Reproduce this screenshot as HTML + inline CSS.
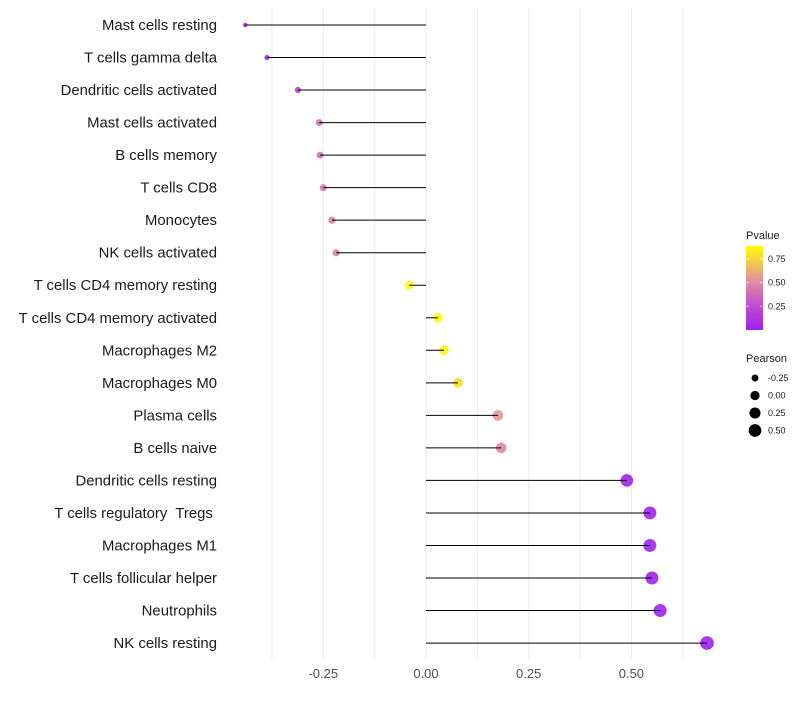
<!DOCTYPE html>
<html><head><meta charset="utf-8"><style>
body{margin:0;background:#fff;font-family:"Liberation Sans",sans-serif}
text{white-space:pre}
</style></head><body>
<svg id="c" width="800" height="700" xmlns="http://www.w3.org/2000/svg">
<defs><linearGradient id="pg" x1="0" y1="1" x2="0" y2="0">
<stop offset="0" stop-color="#A020F0"/><stop offset="0.3" stop-color="#C24ECB"/><stop offset="0.6" stop-color="#E3929A"/><stop offset="1" stop-color="#FFFF00"/>
</linearGradient></defs>
</svg>
<script>
const categories=["Mast cells resting","T cells gamma delta","Dendritic cells activated","Mast cells activated","B cells memory","T cells CD8","Monocytes","NK cells activated","T cells CD4 memory resting","T cells CD4 memory activated","Macrophages M2","Macrophages M0","Plasma cells","B cells naive","Dendritic cells resting","T cells regulatory  Tregs ","Macrophages M1","T cells follicular helper","Neutrophils","NK cells resting"];
const pearson=[-0.44,-0.387,-0.312,-0.26,-0.258,-0.25,-0.229,-0.219,-0.041,0.029,0.044,0.078,0.175,0.183,0.489,0.545,0.545,0.55,0.57,0.684];
const pvalues=[0.02,0.05,0.2,0.4,0.4,0.42,0.45,0.47,0.86,0.88,0.85,0.78,0.55,0.5,0.01,0.01,0.01,0.01,0.01,0.01];
const xTicks=[-0.25,0,0.25,0.5];
const xTickLabels=["-0.25","0.00","0.25","0.50"];
const pTicks=[0.25,0.5,0.75];
const sizeLegend=[-0.25,0,0.25,0.5];
const NS="http://www.w3.org/2000/svg";
const svg=document.getElementById('c');
const x=v=>426+v*410.8;
const y=i=>25+i*32.53;
const rMin=-0.44,rMax=0.684;
const rad=v=>Math.sqrt(5+(v-rMin)/(rMax-rMin)*42);
function mk(t,a){const e=document.createElementNS(NS,t);for(const k in a)e.setAttribute(k,a[k]);svg.appendChild(e);return e;}
function lerp(a,b,t){return a.map((v,i)=>Math.round(v+(b[i]-v)*t));}
const stops=[[0,[160,32,240]],[0.26,[194,78,203]],[0.53,[227,146,154]],[0.88,[255,255,0]]];
function col(p){for(let i=1;i<stops.length;i++){if(p<=stops[i][0]){const t=(p-stops[i-1][0])/(stops[i][0]-stops[i-1][0]);return 'rgb('+lerp(stops[i-1][1],stops[i][1],Math.max(0,t)).join(',')+')';}}return 'rgb(255,255,0)';}
for(let v=-0.375;v<=0.63;v+=0.125){const g=mk('line',{x1:x(v),x2:x(v),y1:8,y2:660,stroke:'#ebebeb','stroke-width':1});

}
xTicks.forEach((v,i)=>{const t=mk('text',{x:x(v),y:678,'text-anchor':'middle','font-size':13,fill:'#4d4d4d'});t.textContent=xTickLabels[i];

});
categories.forEach((c,i)=>{
const t=mk('text',{x:217,y:y(i)+5,'text-anchor':'end','font-size':14.9,fill:'#1a1a1a'});t.textContent=c;


const p=mk('circle',{cx:x(pearson[i]),cy:y(i),r:rad(pearson[i]),fill:col(pvalues[i]),'fill-opacity':0.9});


const l=mk('line',{x1:x(0),x2:x(pearson[i]),y1:y(i),y2:y(i),stroke:'#000','stroke-width':1});


});
let t=mk('text',{x:746,y:239,'font-size':11,fill:'#1a1a1a'});t.textContent='Pvalue';


const cb=mk('rect',{x:746,y:246,width:17,height:84,fill:'url(#pg)'});


const py=p=>330-p*95;
pTicks.forEach(p=>{mk('line',{x1:746,x2:749,y1:py(p),y2:py(p),stroke:'#fff','stroke-opacity':0.6});mk('line',{x1:760,x2:763,y1:py(p),y2:py(p),stroke:'#fff','stroke-opacity':0.6});
const tt=mk('text',{x:768,y:py(p)+3,'font-size':9,fill:'#1a1a1a'});tt.textContent=p.toFixed(2);

});
t=mk('text',{x:746,y:362,'font-size':11,fill:'#1a1a1a'});t.textContent='Pearson';


sizeLegend.forEach((v,i)=>{const cy=378+i*17.5;const c=mk('circle',{cx:755,cy:cy,r:rad(v),fill:'#000'});


const tt=mk('text',{x:768,y:cy+3,'font-size':9,fill:'#1a1a1a'});tt.textContent=v.toFixed(2);

});
</script>
</body></html>
